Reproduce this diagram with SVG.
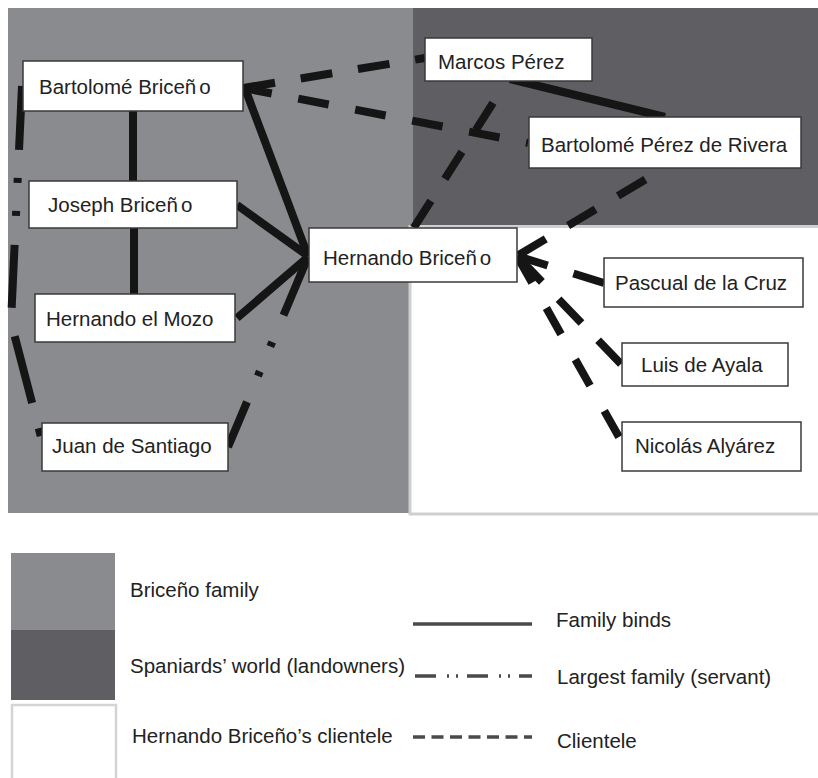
<svg xmlns="http://www.w3.org/2000/svg" width="818" height="778" viewBox="0 0 818 778">
<style>
text{font-family:"Liberation Sans",Arial,sans-serif;font-size:20.5px;fill:#222}
.box{fill:#fff;stroke:#3a3a3a;stroke-width:1.5}
.fam{fill:none;stroke:#151515;stroke-width:8}
.srv{fill:none;stroke:#151515;stroke-width:8}
.cli{fill:none;stroke:#151515;stroke-width:8;stroke-dasharray:32 26}
.lg{fill:none;stroke:#4a4a4a;stroke-width:3.5}
</style>
<rect width="818" height="778" fill="#fff"/>
<g id="regions">
<rect x="8" y="8" width="405" height="505" fill="#8a8b8f"/>
<rect x="413" y="8" width="405" height="217" fill="#5f5f63"/>
<rect x="410" y="226.5" width="412" height="287.5" fill="#fff" stroke="#cfcfd3" stroke-width="3"/>
</g>
<g id="connectors">
<line class="fam" x1="133" y1="111" x2="133" y2="181"/>
<line class="fam" x1="134" y1="228" x2="134" y2="294"/>
<line class="fam" x1="246" y1="91" x2="308" y2="256"/>
<line class="fam" x1="237" y1="205" x2="308" y2="256"/>
<line class="fam" x1="237" y1="318" x2="308" y2="257"/>
<line class="fam" x1="510" y1="79" x2="665" y2="117"/>
<path class="srv" d="M228,447 L308,257" stroke-dasharray="49 28 5 27 5 29 70"/>
<path class="srv" d="M22,86 L11,322 L41,437" stroke-dasharray="64 28 5 28 5 29 63 29 69 26 8 200"/>
<line class="cli" x1="425" y1="58" x2="243" y2="88" stroke-dashoffset="22"/>
<line class="cli" x1="528" y1="143" x2="243" y2="88" style="stroke-dasharray:31 27" stroke-dashoffset="29"/>
<line class="cli" x1="648" y1="178" x2="517" y2="256" stroke-dashoffset="55"/>
<line class="cli" x1="507" y1="81" x2="413" y2="229" stroke-dashoffset="32"/>
<line class="cli" x1="604" y1="283" x2="517" y2="256" style="stroke-dasharray:32 27"/>
<line class="cli" x1="621" y1="364" x2="517" y2="256" style="stroke-dasharray:33 24"/>
<line class="cli" x1="619" y1="437" x2="517" y2="256" style="stroke-dasharray:30 29"/>
</g>
<g id="n-bartolome-briceno"><rect class="box" x="23" y="61" width="220" height="50"/><text x="39" y="94">Bartolomé Briceñ<tspan dx="3">o</tspan></text></g>
<g id="n-joseph-briceno"><rect class="box" x="29" y="181" width="208" height="47"/><text x="48" y="212">Joseph Briceñ<tspan dx="3">o</tspan></text></g>
<g id="n-hernando-el-mozo"><rect class="box" x="35" y="294" width="200" height="48"/><text x="46" y="326">Hernando el Mozo</text></g>
<g id="n-juan-de-santiago"><rect class="box" x="42" y="423" width="186" height="48"/><text x="52" y="453">Juan de Santiago</text></g>
<g id="n-hernando-briceno"><rect class="box" x="309" y="228" width="208" height="54" stroke-width="2"/><text x="323" y="265">Hernando Briceñ<tspan dx="3">o</tspan></text></g>
<g id="n-marcos-perez"><rect class="box" x="425" y="38" width="167" height="43"/><text x="438" y="69">Marcos Pérez</text></g>
<g id="n-bartolome-perez-de-rivera"><rect class="box" x="529" y="117" width="272" height="51"/><text x="541" y="152">Bartolomé Pérez de Rivera</text></g>
<g id="n-pascual-de-la-cruz"><rect class="box" x="604" y="258" width="199" height="49"/><text x="615" y="290">Pascual de la Cruz</text></g>
<g id="n-luis-de-ayala"><rect class="box" x="622" y="343" width="166" height="43"/><text x="641" y="372">Luis de Ayala</text></g>
<g id="n-nicolas-alyarez"><rect class="box" x="622" y="422" width="179" height="49"/><text x="635" y="453">Nicolás Alyárez</text></g>
<g id="legend">
<rect x="11" y="553" width="104" height="77" fill="#8a8b8f"/>
<rect x="11" y="630" width="104" height="70" fill="#5f5f63"/>
<rect x="12" y="705" width="104" height="75" fill="#fff" stroke="#d4d4d8" stroke-width="2.5"/>
<text x="130" y="597">Briceño family</text>
<text x="130" y="673">Spaniards’ world (landowners)</text>
<text x="132" y="743">Hernando Briceño’s clientele</text>
<line class="lg" x1="413" y1="624" x2="532" y2="624"/>
<line class="lg" x1="415" y1="676" x2="532" y2="676" stroke-dasharray="21 11 2 7 2 9"/>
<line class="lg" x1="413" y1="737" x2="532" y2="737" stroke-dasharray="12 6.5" stroke-width="2.5"/>
<text x="556" y="627">Family binds</text>
<text x="557" y="684">Largest family (servant)</text>
<text x="557" y="748">Clientele</text>
</g>
</svg>
